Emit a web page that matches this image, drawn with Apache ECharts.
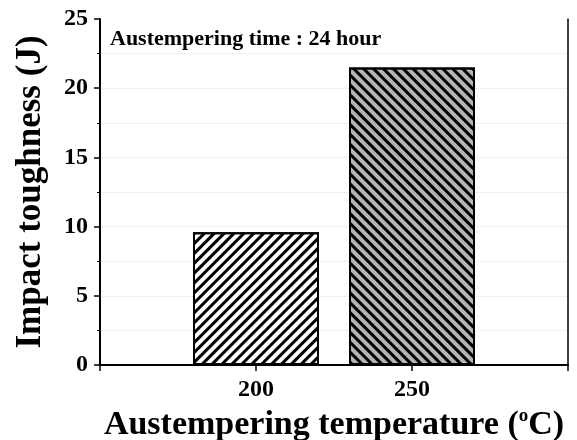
<!DOCTYPE html>
<html>
<head>
<meta charset="utf-8">
<script src="https://cdn.jsdelivr.net/npm/echarts@6/dist/echarts.min.js"></script>
<style>
  html, body { margin: 0; padding: 0; background: #fff; }
  #chart { width: 577px; height: 440px; }
</style>
</head>
<body>
<div id="chart"></div>
<script>
// data
const temperatures = [200, 250];
const toughness = [9.6, 21.5];
const barFills = ['#ffffff', '#b4b4b4'];
const hatchTurns = [-Math.PI / 4, Math.PI / 4];
const yTicks = [0, 5, 10, 15, 20, 25];

const serif = '"Liberation Serif", "DejaVu Serif", serif';

let myChart = echarts.init(document.getElementById('chart'));

let barData = temperatures.map(function (t, i) {
  return {
    value: [t, toughness[i]],
    itemStyle: {
      color: barFills[i],
      borderColor: '#000',
      borderWidth: 2,
      decal: {
        symbol: 'rect',
        symbolSize: 1,
        color: '#000',
        dashArrayX: [1, 0],
        dashArrayY: [2.6, 3.6],
        rotation: hatchTurns[i]
      }
    }
  };
});

myChart.setOption({
  animation: false,
  backgroundColor: '#fff',
  grid: {
    left: 100,
    right: 9,
    top: 19,
    bottom: 75,
    outerBoundsMode: 'none',
    containLabel: false
  },
  graphic: [{
    type: 'text',
    left: 110,
    top: 28,
    style: {
      text: 'Austempering time : 24 hour',
      font: 'bold 22px ' + serif,
      fill: '#000'
    }
  }],
  xAxis: [{
    type: 'value',
    min: 150,
    max: 300,
    interval: 50,
    name: 'Austempering temperature ({sup|o}C)',
    nameLocation: 'middle',
    nameGap: 35,
    nameTextStyle: {
      fontFamily: serif,
      fontWeight: 'bold',
      fontSize: 34,
      color: '#000',
      rich: {
        sup: {
          fontFamily: serif,
          fontWeight: 'bold',
          fontSize: 19,
          verticalAlign: 'top',
          padding: [0, 0, 18, 0]
        }
      }
    },
    axisLine: { lineStyle: { color: '#000', width: 2 } },
    axisTick: { show: true, length: 6, lineStyle: { color: '#000', width: 1.5 } },
    axisLabel: {
      margin: 13,
      fontFamily: serif,
      fontWeight: 'bold',
      fontSize: 24,
      color: '#000',
      formatter: function (v) {
        return temperatures.indexOf(v) >= 0 ? String(v) : '';
      }
    },
    splitLine: { show: false }
  }, {
    type: 'value',
    position: 'top',
    min: 150,
    max: 300,
    axisLine: { show: true, lineStyle: { color: '#000', width: 1.5 } },
    axisTick: { show: false },
    axisLabel: { show: false },
    splitLine: { show: false }
  }],
  yAxis: [{
    type: 'value',
    min: 0,
    max: 25,
    interval: 5,
    name: 'Impact toughness (J)',
    nameLocation: 'middle',
    nameGap: 52,
    nameTextStyle: {
      fontFamily: serif,
      fontWeight: 'bold',
      fontSize: 35,
      color: '#000'
    },
    axisLine: { show: true, lineStyle: { color: '#000', width: 2 } },
    axisTick: { show: true, length: 6, lineStyle: { color: '#000', width: 1.5 } },
    minorTick: { show: true, splitNumber: 2, length: 3, lineStyle: { color: '#000', width: 1 } },
    axisLabel: {
      margin: 12,
      fontFamily: serif,
      fontWeight: 'bold',
      fontSize: 24,
      color: '#000',
      formatter: function (v) {
        return yTicks.indexOf(v) >= 0 ? String(v) : '';
      }
    },
    splitLine: { show: true, showMaxLine: false, showMinLine: false, lineStyle: { color: '#e2e2e2', type: 'dotted', width: 1 } },
    minorSplitLine: { show: true, lineStyle: { color: '#e2e2e2', type: 'dotted', width: 1 } }
  }, {
    type: 'value',
    position: 'right',
    min: 0,
    max: 25,
    axisLine: { show: true, lineStyle: { color: '#000', width: 1.5 } },
    axisTick: { show: false },
    axisLabel: { show: false },
    splitLine: { show: false }
  }],
  series: [{
    type: 'bar',
    data: barData,
    barWidth: 126
  }]
});
</script>
</body>
</html>
